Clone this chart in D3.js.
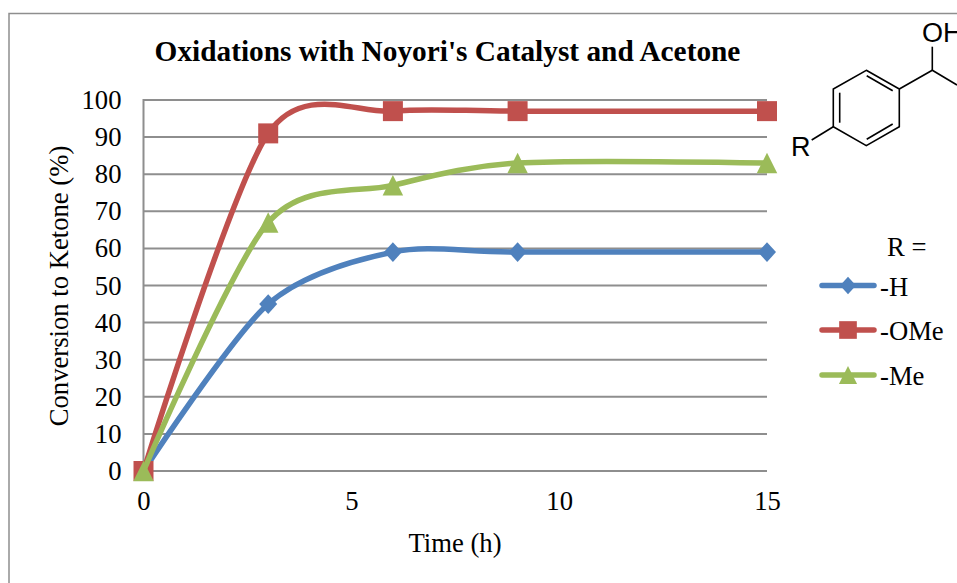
<!DOCTYPE html>
<html>
<head>
<meta charset="utf-8">
<script src="https://cdn.jsdelivr.net/npm/d3@7"></script>
<style>
  html, body { margin: 0; padding: 0; background: #fff; overflow: hidden; }
  text { font-family: "Liberation Serif", serif; fill: #000; }
</style>
</head>
<body>
<div id="chart"></div>
<script>
var times = [0, 3, 6, 9, 15]
var series_names = ['-H', '-OMe', '-Me']
var h_values = [0, 45, 59, 59, 59]
var ome_values = [0, 91, 97, 97, 97]
var me_values = [0, 67, 77, 83, 83]
var x_ticks = [0, 5, 10, 15]
var y_ticks = [0, 10, 20, 30, 40, 50, 60, 70, 80, 90, 100]

var width = 957
var height = 583
var GRID = '#8e8e8e'
var FONT_SIZE = '26.67px'
var colors = ['#4f81bd', '#c0504d', '#9bbb59']

// excel style markers, as wide as they are tall
var diamond = {
  draw: (ctx, size) => {
    var w = Math.sqrt(size) / 2
    ctx.moveTo(0, -w * 1.1)
    ctx.lineTo(w, 0)
    ctx.lineTo(0, w * 1.1)
    ctx.lineTo(-w, 0)
    ctx.closePath()
  }
}
var triangle = {
  draw: (ctx, size) => {
    var w = Math.sqrt(size) / 2
    ctx.moveTo(0, -w)
    ctx.lineTo(w, w)
    ctx.lineTo(-w, w)
    ctx.closePath()
  }
}
var symbols = [diamond, d3.symbolSquare, triangle]
var sizes = [324, 400, 420]

var svg = d3.select('#chart').append('svg')
  .attr('width', width)
  .attr('height', height)

// outer chart frame, only top and left show
svg.append('path')
  .attr('d', 'M9,583V13.5H957')
  .attr('fill', 'none')
  .attr('stroke', GRID)
  .attr('stroke-width', 1.5)

var x = d3.scaleLinear().domain([0, 15]).range([143.5, 767])
var y = d3.scaleLinear().domain([0, 100]).range([471, 100])

// grid
svg.append('g')
  .selectAll('line')
  .data(y_ticks)
  .enter()
  .append('line')
  .attr('x1', x(0))
  .attr('x2', x(15))
  .attr('y1', d => y(d))
  .attr('y2', d => y(d))
  .attr('stroke', GRID)
  .attr('stroke-width', 2)

svg.append('line')
  .attr('x1', x(0))
  .attr('x2', x(0))
  .attr('y1', y(100) - 1)
  .attr('y2', y(0) + 1)
  .attr('stroke', GRID)
  .attr('stroke-width', 2)

// axes
var y_axis = svg.append('g')
  .attr('transform', 'translate(' + x(0) + ',0)')
  .call(d3.axisLeft(y).tickValues(y_ticks).tickSize(0).tickPadding(22))
y_axis.select('.domain').remove()
y_axis.selectAll('text').attr('font-size', FONT_SIZE).style('font-family', '"Liberation Serif", serif')

var x_axis = svg.append('g')
  .attr('transform', 'translate(0,' + y(0) + ')')
  .call(d3.axisBottom(x).tickValues(x_ticks).tickSize(0).tickPadding(20))
x_axis.select('.domain').remove()
x_axis.selectAll('text').attr('font-size', FONT_SIZE).style('font-family', '"Liberation Serif", serif')

// lines and markers
var line = d3.line()
  .x((d, i) => x(times[i]))
  .y(d => y(d))
  .curve(d3.curveCardinal.tension(0.15))

var all_values = [h_values, ome_values, me_values]
all_values.forEach((values, s) => {
  svg.append('path')
    .attr('d', line(values))
    .attr('fill', 'none')
    .attr('stroke', colors[s])
    .attr('stroke-width', 5.5)
    .attr('stroke-linecap', 'round')
  svg.selectAll('.marker-' + s)
    .data(values)
    .enter()
    .append('path')
    .attr('class', 'marker-' + s)
    .attr('d', d3.symbol().type(symbols[s]).size(sizes[s]))
    .attr('transform', (d, i) => 'translate(' + x(times[i]) + ',' + y(d) + ')')
    .attr('fill', colors[s])
})

// titles
svg.append('text')
  .attr('x', 447.5)
  .attr('y', 61)
  .attr('text-anchor', 'middle')
  .attr('font-size', '29.33px')
  .attr('font-weight', 'bold')
  .text("Oxidations with Noyori's Catalyst and Acetone")

svg.append('text')
  .attr('x', 455)
  .attr('y', 552)
  .attr('text-anchor', 'middle')
  .attr('font-size', FONT_SIZE)
  .text('Time (h)')

svg.append('text')
  .attr('transform', 'translate(68,286) rotate(-90)')
  .attr('text-anchor', 'middle')
  .attr('font-size', FONT_SIZE)
  .text('Conversion to Ketone (%)')

// legend
var legend_y = [285.5, 330, 375]
svg.append('text')
  .attr('x', 887)
  .attr('y', 256)
  .attr('font-size', FONT_SIZE)
  .text('R =')

series_names.forEach((name, s) => {
  var g = svg.append('g').attr('transform', 'translate(0,' + legend_y[s] + ')')
  g.append('line')
    .attr('x1', 822)
    .attr('x2', 874)
    .attr('stroke', colors[s])
    .attr('stroke-width', 5.5)
    .attr('stroke-linecap', 'round')
  g.append('path')
    .attr('d', d3.symbol().type(symbols[s]).size(sizes[s] * 0.78))
    .attr('transform', 'translate(848,0)')
    .attr('fill', colors[s])
  g.append('text')
    .attr('x', 880)
    .attr('y', 10)
    .attr('font-size', FONT_SIZE)
    .text(name)
})

// structure drawing top right
var mol = svg.append('g')
var bonds = [
  'M866.3,70.3L899.3,89L899.3,126.7L866.3,145.7L833.3,126.7L833.3,89Z',
  'M839.7,92.7V122.7',
  'M866.7,75.7L892.7,90.7',
  'M866.7,139.3L892.7,124',
  'M899.3,89L932.3,70.3L957,85',
  'M932.3,70.3V46.7',
  'M833.3,126.7L811.7,140'
]
mol.selectAll('path')
  .data(bonds)
  .enter()
  .append('path')
  .attr('d', d => d)
  .attr('fill', 'none')
  .attr('stroke', '#000')
  .attr('stroke-width', 1.6)

mol.append('text')
  .attr('x', 922)
  .attr('y', 42)
  .attr('font-size', '27px')
  .style('font-family', '"Liberation Sans", sans-serif')
  .text('OH')

mol.append('text')
  .attr('x', 791)
  .attr('y', 156)
  .attr('font-size', '27px')
  .style('font-family', '"Liberation Sans", sans-serif')
  .text('R')
</script>
</body>
</html>
